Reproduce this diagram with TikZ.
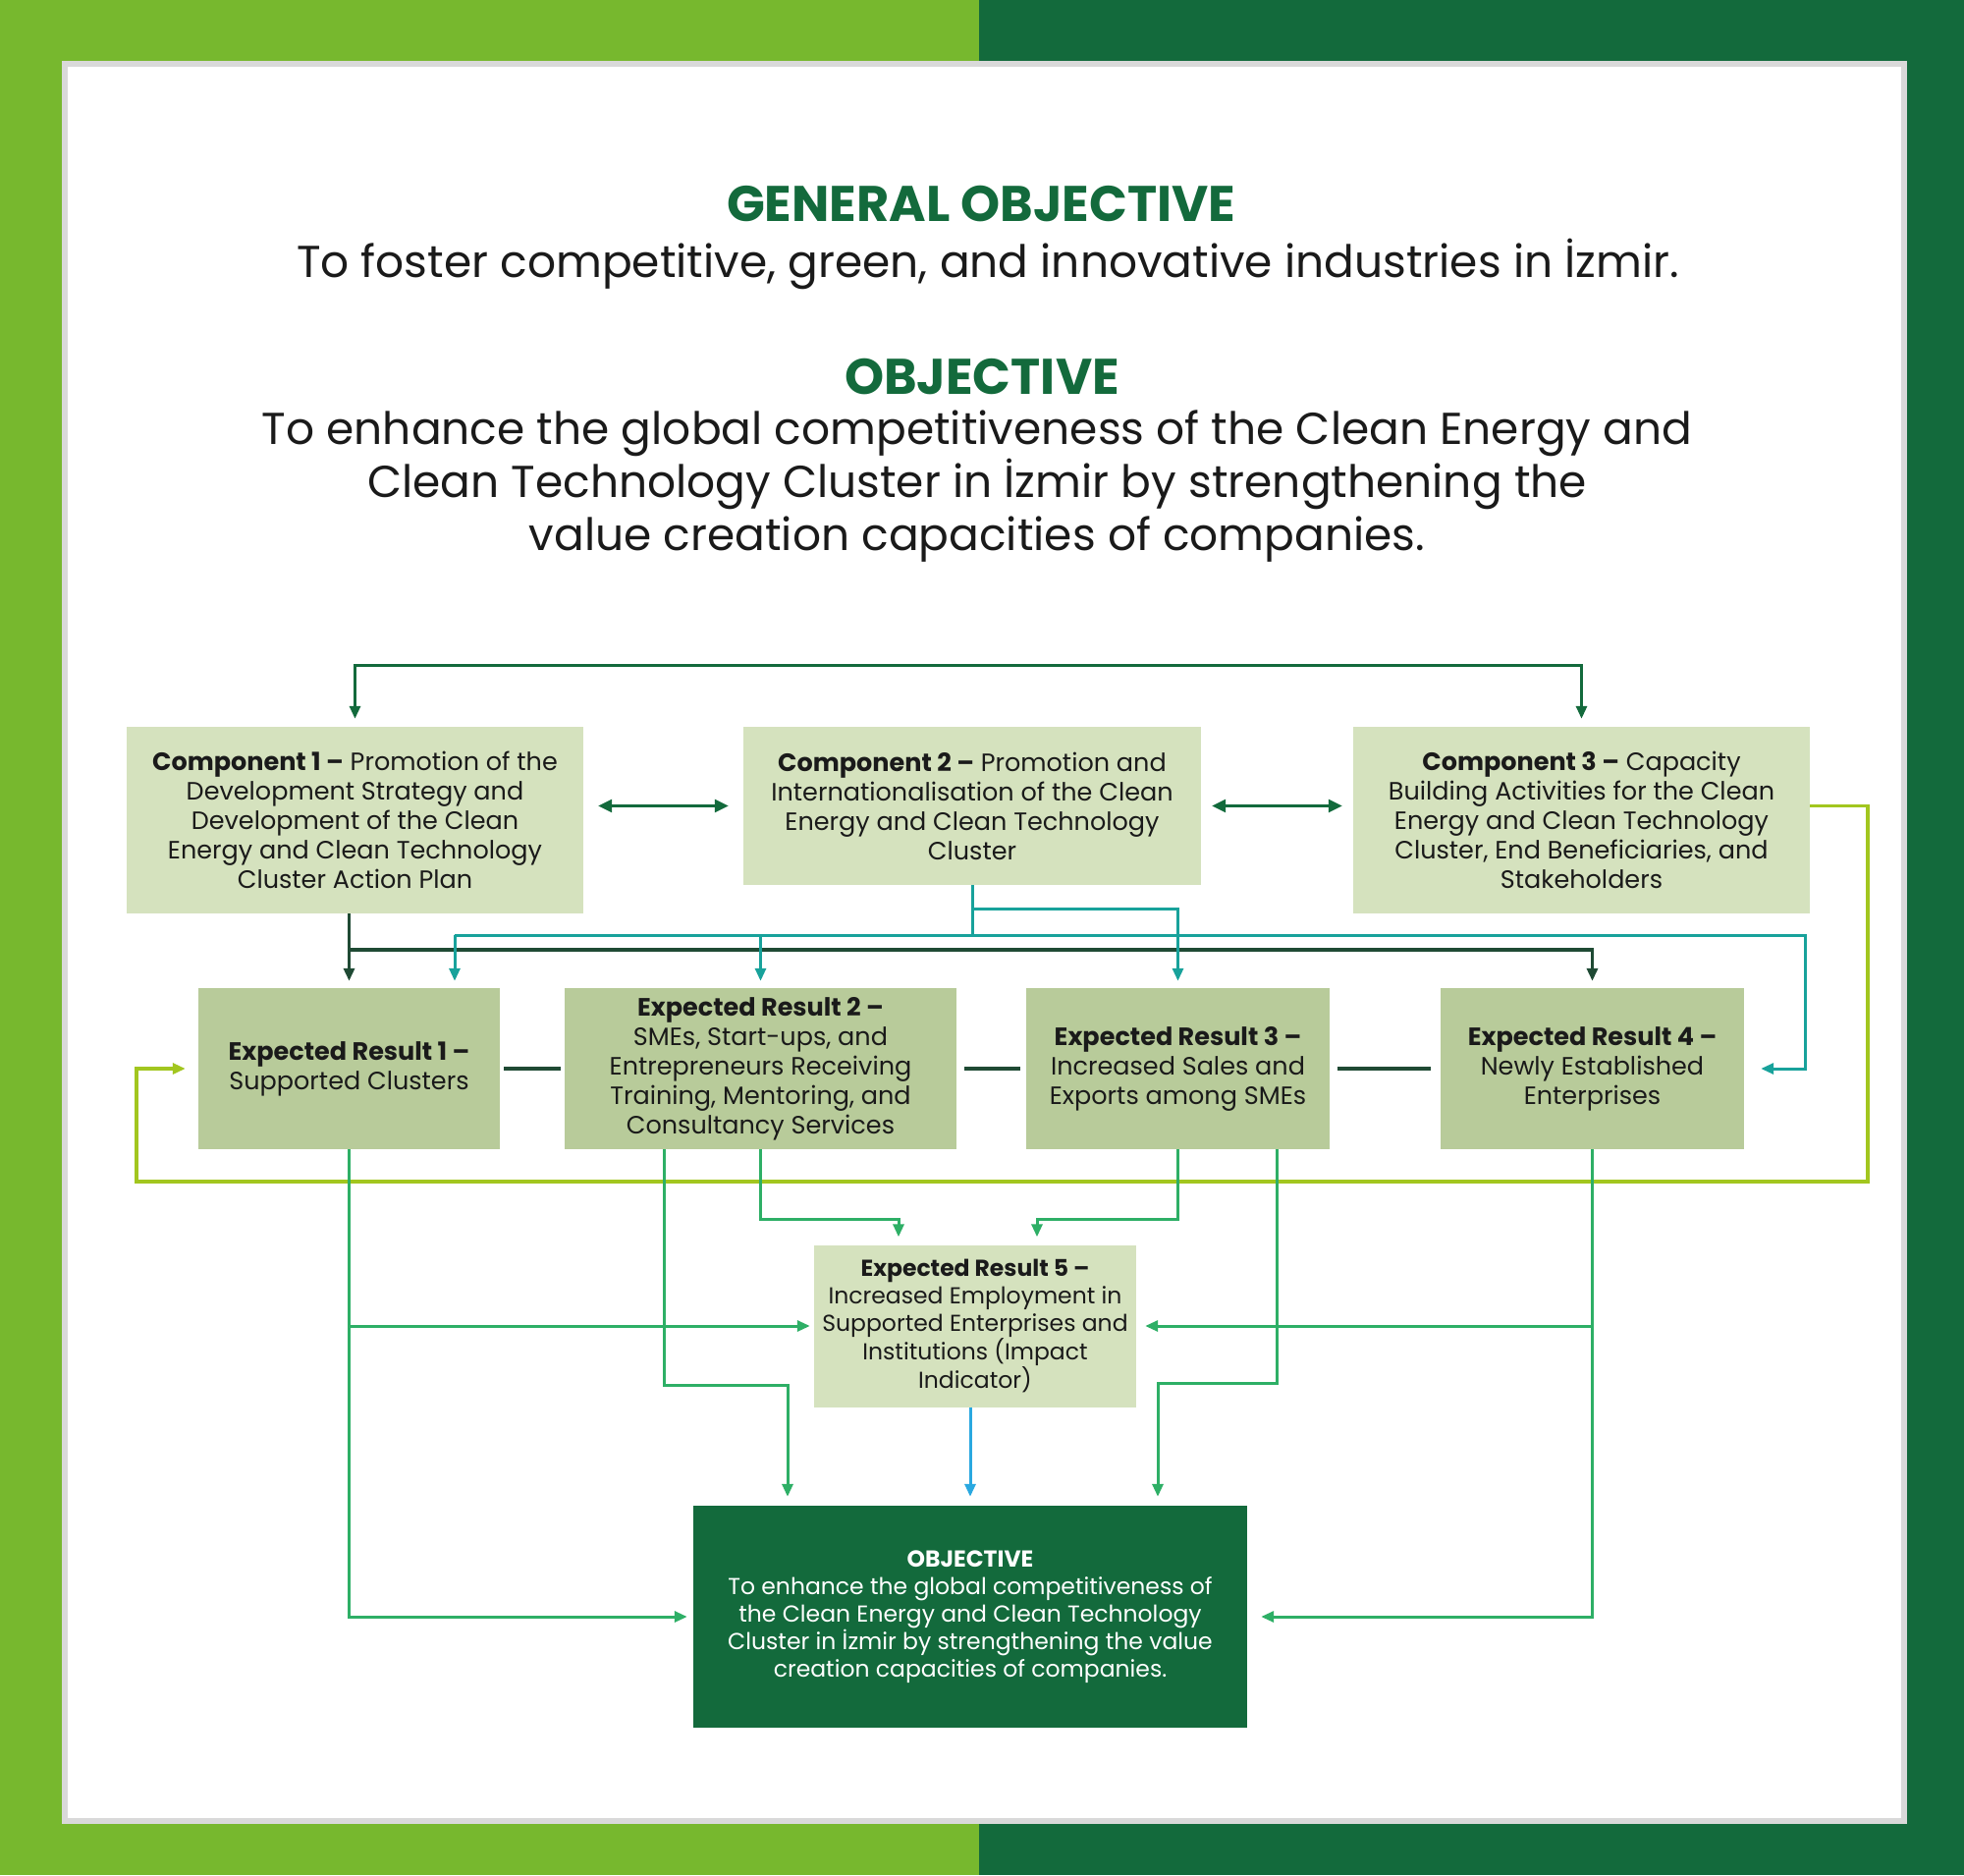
\documentclass[tikz,border=0pt]{standalone}
\usepackage{fontspec}
\setmainfont{Poppins}
\usetikzlibrary{arrows.meta}
\definecolor{limebg}{HTML}{77B82E}
\definecolor{darkbg}{HTML}{136A3C}
\definecolor{compfill}{HTML}{D5E2BE}
\definecolor{erfill}{HTML}{B8CB9A}
\definecolor{tealline}{HTML}{18A29B}
\definecolor{limeline}{HTML}{A2C61F}
\definecolor{grnline}{HTML}{2EAF66}
\definecolor{darkline}{HTML}{1F4A34}
\definecolor{blueline}{HTML}{2AA8E0}
\definecolor{framegray}{HTML}{D9D9D9}
\definecolor{inktext}{HTML}{1A1A1A}

\begin{document}
\begin{tikzpicture}
    [x=1pt, y=-1pt,
    every node/.style={inner sep=0pt, align=center, text=inktext},
    comp/.style={fill=compfill, font=\fontsize{25.5}{30}\selectfont, minimum width=465pt},
    result/.style={fill=erfill, font=\fontsize{25.5}{30}\selectfont, minimum height=164pt},
    head/.style={font=\fontsize{51}{54}\selectfont\bfseries, text=darkbg, anchor=base},
    body/.style={font=\fontsize{45.5}{54}\selectfont, anchor=base},
    arr/.style={-{Triangle[length=13pt,width=11pt]}, shorten >=#1},
    arr/.default=8pt,
    dbl/.style={{Triangle[length=14pt,width=13pt]}-{Triangle[length=14pt,width=13pt]}, shorten <=#1, shorten >=#1},
    topln/.style={darkbg, line width=3pt},
    darkln/.style={darkline, line width=3.5pt},
    tealln/.style={tealline, line width=3pt},
    limeln/.style={limeline, line width=3.5pt},
    grnln/.style={grnline, line width=3pt}]
    \useasboundingbox (0,0) rectangle (2000,1909);
    \fill[limebg] (0,0) rectangle (997,1909);
    \fill[darkbg] (997,0) rectangle (2000,1909);
    \fill[framegray] (63,62) rectangle (1942,1857);
    \fill[white] (69,68) rectangle (1936,1851);

    \node[head] (gohead) at (999,225) {GENERAL OBJECTIVE};
    \node[body] (gotext) at (1006,282) {To foster competitive, green, and innovative industries in İzmir.};
    \node[head] (obhead) at (1000,401) {OBJECTIVE};
    \node[body] (obtext) at (995,560) {To enhance the global competitiveness of the Clean Energy and\\
      Clean Technology Cluster in İzmir by strengthening the\\value creation capacities of companies.};

    \node[comp, minimum height=190pt] (c1) at (361.5,835) {\textbf{Component 1 –} Promotion of the\\Development Strategy and\\Development of the Clean\\Energy and Clean Technology\\Cluster Action Plan};
    \node[comp, minimum width=466pt, minimum height=161pt] (c2) at (990,820.5) {\textbf{Component 2 –} Promotion and\\Internationalisation of the Clean\\Energy and Clean Technology\\Cluster};
    \node[comp, minimum height=190pt] (c3) at (1610.5,835) {\textbf{Component 3 –} Capacity\\Building Activities for the Clean\\Energy and Clean Technology\\Cluster, End Beneficiaries, and\\Stakeholders};

    \node[result, minimum width=307pt] (er1) at (355.5,1088) {\textbf{Expected Result 1 –}\\Supported Clusters};
    \node[result, minimum width=399pt] (er2) at (774.5,1088) {\textbf{Expected Result 2 –}\\SMEs, Start-ups, and\\Entrepreneurs Receiving\\Training, Mentoring, and\\Consultancy Services};
    \node[result, minimum width=309pt] (er3) at (1199.5,1088) {\textbf{Expected Result 3 –}\\Increased Sales and\\Exports among SMEs};
    \node[result, minimum width=309pt] (er4) at (1621.5,1088) {\textbf{Expected Result 4 –}\\Newly Established\\Enterprises};
    \node[comp, minimum width=328pt, minimum height=165pt, font=\fontsize{23.5}{28}\selectfont] (er5) at (993,1350) {\textbf{Expected Result 5 –}\\Increased Employment in\\Supported Enterprises and\\Institutions (Impact\\Indicator)};
    \node[fill=darkbg, text=white, minimum width=564pt, minimum height=226pt, font=\fontsize{23.5}{28}\selectfont] (obj) at (988,1646) {\textbf{OBJECTIVE}\\To enhance the global competitiveness of\\the Clean Energy and Clean Technology\\Cluster in İzmir by strengthening the value\\creation capacities of companies.};

    \draw[topln, {Triangle[length=13pt,width=11pt]}-{Triangle[length=13pt,width=11pt]}, shorten <=8pt, shorten >=8pt] (c1.north) -- ++(0,-62) -| (c3.north);
    \draw[topln, dbl=15pt] (c2.west -| c1.east) -- (c2.west);
    \draw[topln, dbl=11pt] (c2.east) -- (c2.east -| c3.west);

    \draw[darkln, arr=7pt] (c1.south -| er1.north) -- (er1.north);
    \draw[darkln, arr=7pt] (er1.north |- 0,967) -| (er4.north);

    \draw[tealln] (c2.south) -- (c2.south |- 0,952);
    \draw[tealln, arr=7pt] (c2.south |- 0,925) -| (er3.north);
    \coordinate (tl) at (463,952);
    \draw[tealln, arr=7pt] (tl) -- (tl |- er1.north);
    \draw[tealln, arr=7pt] (tl -| er2.north) -- (er2.north);
    \draw[tealln, arr=17pt] (tl) -| (1838,1088) -- (er4.east);

    \draw[limeln, arr=13pt] (c2.east -| c3.east) -| (1902,1203) -| (139,1088) -- (er1.west);

    \draw[darkln, line width=4pt, shorten <=4pt, shorten >=4pt] (er1) -- (er2);
    \draw[darkln, line width=4pt, shorten <=8pt, shorten >=6pt] (er2) -- (er3);
    \draw[darkln, line width=4pt, shorten <=8pt, shorten >=10pt] (er3) -- (er4);

    \draw[grnln, arr=6pt] (er1.south) |- (obj.west);
    \draw[grnln, arr=4pt] (er1.south |- er5.west) -- (er5.west);
    \draw[grnln, arr=14pt] (er4.south) |- (obj.east);
    \draw[grnln, arr=9pt] (er4.south |- er5.east) -- (er5.east);
    \draw[grnln, arr=9pt] (er2.south -| 676,0) |- (802,1410) -- (802,1410 |- obj.north);
    \draw[grnln, arr=8pt] (er2.south) |- (915,1241) -- (915,1241 |- er5.north);
    \draw[grnln, arr=8pt] (er3.south) |- (1056,1241) -- (1056,1241 |- er5.north);
    \draw[grnln, arr=9pt] (er3.south -| 1300,0) |- (1179,1408) -- (1179,1408 |- obj.north);
    \draw[blueline, line width=3pt, arr=9pt] (obj.north |- er5.south) -- (obj.north);
  \end{tikzpicture}
\end{document}
